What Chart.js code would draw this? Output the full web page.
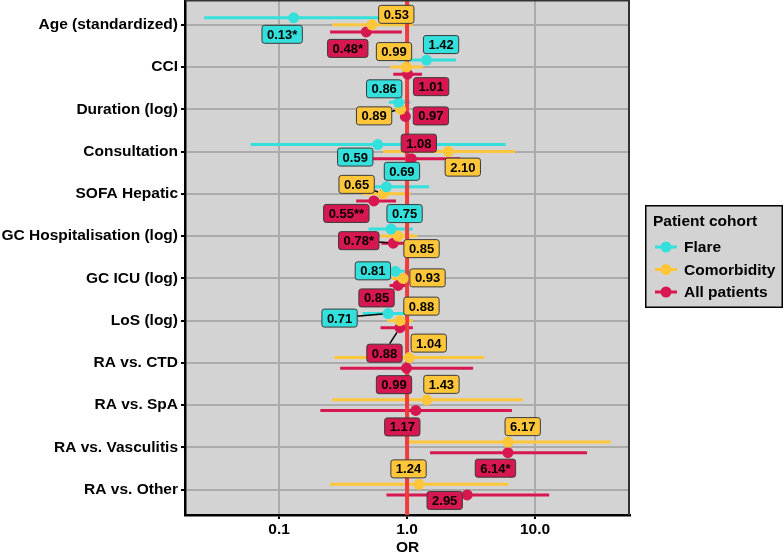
<!DOCTYPE html>
<html><head><meta charset="utf-8">
<script src="https://cdn.jsdelivr.net/npm/chart.js@4"></script>
<style>html,body{margin:0;padding:0;background:#fff;overflow:hidden}#c{display:block;margin-top:-6px}</style>
</head><body>
<canvas id="c" width="784" height="558"></canvas>
<script>
// ---------- data ----------
const categories = ['Age (standardized)','CCI','Duration (log)','Consultation','SOFA Hepatic',
  'GC Hospitalisation (log)','GC ICU (log)','LoS (log)','RA vs. CTD','RA vs. SpA','RA vs. Vasculitis','RA vs. Other'];
const seriesNames = ['Flare','Comorbidity','All patients'];

const flareOR  = [0.13, 1.42, 0.86, 0.59, 0.69, 0.75, 0.81, 0.71, null, null, null, null];
const flareLo  = [0.026,0.84, 0.72, 0.06, 0.35, 0.50, 0.64, 0.45, null, null, null, null];
const flareHi  = [0.65, 2.41, 1.06, 5.9,  1.49, 1.11, 1.05, 1.02, null, null, null, null];
const flareTxt = ['0.13*','1.42','0.86','0.59','0.69','0.75','0.81','0.71', null, null, null, null];

const comorbOR  = [0.53, 0.99, 0.89, 2.10, 0.65, 0.85, 0.93, 0.88, 1.04, 1.43, 6.17, 1.24];
const comorbLo  = [0.26, 0.74, 0.80, 0.65, 0.45, 0.62, 0.76, 0.70, 0.27, 0.26, 0.98, 0.25];
const comorbHi  = [1.11, 1.33, 0.99, 6.97, 1.06, 1.20, 1.10, 1.11, 4.0,  8.05, 39.0, 6.2];
const comorbTxt = ['0.53','0.99','0.89','2.10','0.65','0.85','0.93','0.88','1.04','1.43','6.17','1.24'];

const allOR  = [0.48, 1.01, 0.97, 1.08, 0.55, 0.78, 0.85, 0.88, 0.99, 1.17, 6.14, 2.95];
const allLo  = [0.25, 0.78, 0.93, 0.53, 0.40, 0.63, 0.73, 0.62, 0.30, 0.21, 1.51, 0.69];
const allHi  = [0.91, 1.31, 1.01, 2.6,  0.82, 0.97, 1.00, 1.11, 3.28, 6.6,  25.5, 12.9];
const allTxt = ['0.48*','1.01','0.97','1.08','0.55**','0.78*','0.85','0.88','0.99','1.17','6.14*','2.95'];

const xTicks = [0.1, 1, 10];
const xTickLabels = ['0.1', '1.0', '10.0'];
const refLine = 1;

// ---------- layout (label placement, pixels relative to point) ----------
const flareShift  = [[-12,16],[14,-16],[-15,-14],[-23,12],[15,-16],[13,-16],[-23,-1],[-49,4]];
const comorbShift = [[24,-11],[-13,-16],[-27,6],[14,15],[-27,-10],[23,12],[24,-1],[21,-15],[19,-15],[14,-16],[14,-16],[-11,-16]];
const allShift    = [[-19,16],[23,12],[25,-1],[7,-16],[-28,12],[-35,-3],[-22,12],[-16,25],[-13,16],[-14,16],[-13,15],[-23,5]];

const colors = ['#33e0dc', '#ffc63a', '#d7174f'];
const FONT = '"Liberation Sans", Arial, Helvetica, sans-serif';
const CANVAS_SHIFT = 6; // canvas is moved up by this many px

const seriesVals = [
  {or: flareOR, lo: flareLo, hi: flareHi, txt: flareTxt, shift: flareShift},
  {or: comorbOR, lo: comorbLo, hi: comorbHi, txt: comorbTxt, shift: comorbShift},
  {or: allOR, lo: allLo, hi: allHi, txt: allTxt, shift: allShift}
];

function dodge(s, i) {
  const present = seriesVals.map((v, k) => v.or[i] != null ? k : -1).filter(k => k >= 0);
  const n = present.length, k = present.indexOf(s);
  return (k - (n - 1) / 2) * 0.5 / n;
}

const datasets = seriesVals.map((v, s) => ({
  label: seriesNames[s],
  data: categories.map((c, i) => v.or[i] == null ? null : {
    x: v.or[i], y: i + 1 + dodge(s, i), lo: v.lo[i], hi: v.hi[i], txt: v.txt[i], shift: v.shift[i]
  }).filter(p => p),
  pointRadius: 5.5, pointHoverRadius: 5.5,
  pointBackgroundColor: colors[s], pointBorderWidth: 0, borderWidth: 0,
  showLine: false
}));

const forestPlugin = {
  id: 'forest',
  beforeDraw(chart) {
    const {ctx, chartArea: a} = chart;
    ctx.save();
    ctx.fillStyle = '#d3d3d3';
    ctx.fillRect(a.left, a.top, a.right - a.left, a.bottom - a.top);
    ctx.restore();
  },
  beforeDatasetsDraw(chart) {
    const {ctx, chartArea: a, scales: {x, y}} = chart;
    ctx.save();
    ctx.beginPath(); ctx.rect(a.left, a.top, a.right - a.left, a.bottom - a.top); ctx.clip();
    chart.data.datasets.forEach((ds, s) => {
      ctx.strokeStyle = colors[s]; ctx.lineWidth = 3; ctx.lineCap = 'butt';
      ds.data.forEach(p => {
        const py = y.getPixelForValue(p.y);
        ctx.beginPath();
        ctx.moveTo(x.getPixelForValue(p.lo), py);
        ctx.lineTo(x.getPixelForValue(p.hi), py);
        ctx.stroke();
      });
    });
    const rx = x.getPixelForValue(refLine);
    ctx.strokeStyle = '#ef3b3b'; ctx.lineWidth = 4;
    ctx.beginPath(); ctx.moveTo(rx, a.top); ctx.lineTo(rx, a.bottom); ctx.stroke();
    ctx.restore();
  },
  afterDatasetsDraw(chart) {
    const {ctx, chartArea: a} = chart;
    ctx.save();
    ctx.font = 'bold 13px ' + FONT;
    const boxes = [];
    chart.data.datasets.forEach((ds, s) => {
      const meta = chart.getDatasetMeta(s);
      ds.data.forEach((p, j) => {
        const el = meta.data[j];
        const cx = el.x + p.shift[0], cy = el.y + p.shift[1];
        const w = ctx.measureText(p.txt).width + 10, h = 18;
        boxes.push({s, px: el.x, py: el.y, x0: cx - w / 2, y0: cy - h / 2, w, h, cx, cy, txt: p.txt});
      });
    });
    // leader segments
    ctx.strokeStyle = '#000'; ctx.lineWidth = 1.5;
    boxes.forEach(b => {
      const nx = Math.max(b.x0, Math.min(b.px, b.x0 + b.w));
      const ny = Math.max(b.y0, Math.min(b.py, b.y0 + b.h));
      const d = Math.hypot(b.px - nx, b.py - ny);
      if (d > 8.5) {
        const dx = b.px - b.cx, dy = b.py - b.cy;
        const t = Math.min((b.w / 2) / Math.abs(dx || 1e-9), (b.h / 2) / Math.abs(dy || 1e-9));
        const sx = b.cx + dx * t, sy = b.cy + dy * t;
        const L = Math.hypot(b.px - sx, b.py - sy);
        const ex = b.px - (b.px - sx) / L * 5.5, ey = b.py - (b.py - sy) / L * 5.5;
        ctx.beginPath(); ctx.moveTo(sx, sy); ctx.lineTo(ex, ey); ctx.stroke();
      }
    });
    // label boxes
    boxes.forEach(b => {
      ctx.beginPath();
      ctx.roundRect(b.x0 + 0.5, b.y0 + 0.5, b.w, b.h, 2.5);
      ctx.fillStyle = colors[b.s]; ctx.fill();
      ctx.strokeStyle = '#3a3a3a'; ctx.lineWidth = 1; ctx.stroke();
      ctx.fillStyle = '#000'; ctx.textAlign = 'center'; ctx.textBaseline = 'middle';
      ctx.fillText(b.txt, b.cx + 0.5, b.cy + 1.5);
    });
    // panel top/right border
    ctx.strokeStyle = '#333'; ctx.lineWidth = 2;
    ctx.beginPath(); ctx.moveTo(a.left, a.top + 1); ctx.lineTo(a.right - 1, a.top + 1); ctx.lineTo(a.right - 1, a.bottom); ctx.stroke();
    ctx.restore();
  },
  afterDraw(chart) {
    const {ctx} = chart;
    ctx.save();
    ctx.translate(0, CANVAS_SHIFT);
    const lx = 645, ly = 205, lw = 138, lh = 103;
    ctx.fillStyle = '#d3d3d3'; ctx.fillRect(lx, ly, lw, lh);
    ctx.strokeStyle = '#000'; ctx.lineWidth = 1.5; ctx.strokeRect(lx + 0.75, ly + 0.75, lw - 1.5, lh - 1.5);
    ctx.fillStyle = '#000'; ctx.textAlign = 'left'; ctx.textBaseline = 'middle';
    ctx.font = 'bold 15.5px ' + FONT;
    ctx.fillText('Patient cohort', 653, 222);
    seriesNames.forEach((n, s) => {
      const yy = 247 + s * 22.5;
      ctx.strokeStyle = colors[s]; ctx.lineWidth = 3;
      ctx.beginPath(); ctx.moveTo(655, yy); ctx.lineTo(677, yy); ctx.stroke();
      ctx.fillStyle = colors[s];
      ctx.beginPath(); ctx.arc(666, yy, 5.5, 0, Math.PI * 2); ctx.fill();
      ctx.fillStyle = '#000';
      ctx.fillText(n, 684, yy + 1);
    });
    ctx.restore();
  }
};

const tickFont = {family: FONT, size: 15.5, weight: 'bold'};

new Chart(document.getElementById('c'), {
  type: 'scatter',
  data: {datasets},
  options: {
    responsive: false, animation: false, devicePixelRatio: 1,
    layout: {padding: {left: 0, right: 154, top: 0, bottom: 0}},
    plugins: {legend: {display: false}, tooltip: {enabled: false}},
    scales: {
      x: {
        type: 'logarithmic', min: 0.0184, max: 55.2,
        afterBuildTicks: sc => { sc.ticks = xTicks.map(v => ({value: v})); },
        ticks: {
          callback: (v) => { const k = xTicks.findIndex(t => Math.abs(t - v) < 1e-9); return k >= 0 ? xTickLabels[k] : ''; },
          font: tickFont, color: '#000', padding: 1, autoSkip: false, maxRotation: 0
        },
        grid: {color: '#ababab', lineWidth: 2, tickColor: '#000', tickLength: 4, drawTicks: true},
        border: {color: '#000', width: 2.5},
        title: {display: true, text: 'OR', font: {family: FONT, size: 15.5, weight: 'bold', lineHeight: 1}, color: '#000', padding: {top: 0, bottom: -3}},
        afterFit: sc => { sc.height = 37; sc.paddingLeft = 0; sc.paddingRight = 0; }
      },
      y: {
        type: 'linear', reverse: true, min: 0.4, max: 12.6,
        afterBuildTicks: sc => { sc.ticks = categories.map((c, i) => ({value: i + 1})); },
        ticks: {
          callback: (v) => categories[Math.round(v) - 1],
          font: tickFont, color: '#000', padding: 3, autoSkip: false
        },
        grid: {color: '#ababab', lineWidth: 2, tickColor: '#000', tickLength: 4, drawTicks: true},
        border: {color: '#000', width: 2.5},
        afterFit: sc => { sc.width = 185; sc.paddingTop = 0; sc.paddingBottom = 0; }
      }
    }
  },
  plugins: [forestPlugin]
});
</script>
</body></html>
